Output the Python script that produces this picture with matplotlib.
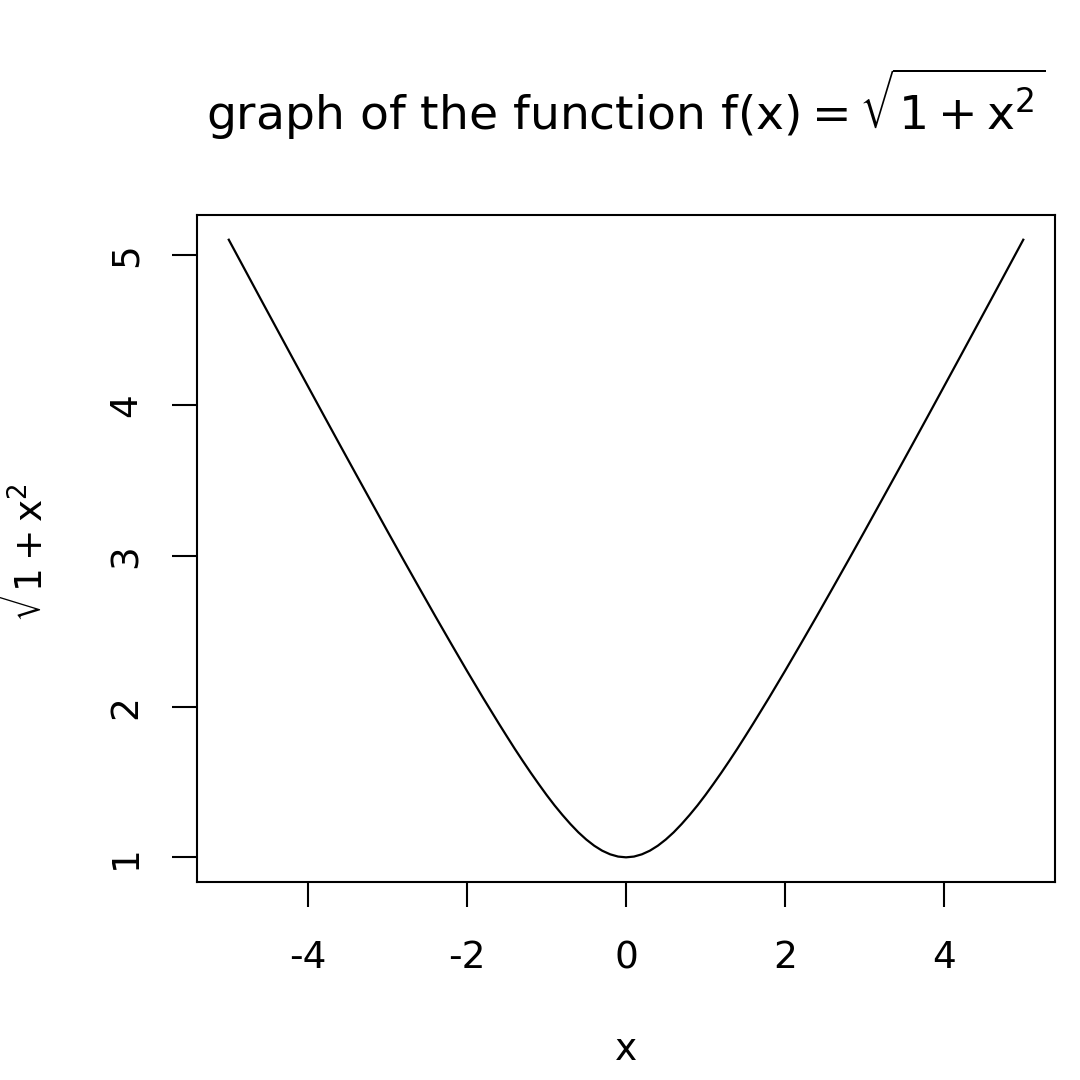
import matplotlib
matplotlib.use("Agg")
import matplotlib.pyplot as plt

plt.rcParams['font.family'] = ['DejaVu Sans']
plt.rcParams['mathtext.fontset'] = 'dejavusans'

# values
x = [-5.0, -4.8, -4.6, -4.4, -4.2, -4.0, -3.8, -3.6, -3.4, -3.2, -3.0,
     -2.8, -2.6, -2.4, -2.2, -2.0, -1.8, -1.6, -1.5, -1.4, -1.3, -1.2, -1.1, -1.0,
     -0.9, -0.8, -0.7, -0.6, -0.5, -0.4, -0.3, -0.2, -0.1, 0.0,
     0.1, 0.2, 0.3, 0.4, 0.5, 0.6, 0.7, 0.8, 0.9, 1.0,
     1.1, 1.2, 1.3, 1.4, 1.5, 1.6, 1.8, 2.0, 2.2, 2.4, 2.6, 2.8, 3.0,
     3.2, 3.4, 3.6, 3.8, 4.0, 4.2, 4.4, 4.6, 4.8, 5.0]
y = [5.099, 4.903, 4.707, 4.512, 4.317, 4.123, 3.929, 3.736, 3.544, 3.353, 3.162,
     2.973, 2.786, 2.600, 2.417, 2.236, 2.059, 1.887, 1.803, 1.720, 1.640, 1.562, 1.487, 1.414,
     1.345, 1.281, 1.221, 1.166, 1.118, 1.077, 1.044, 1.020, 1.005, 1.000,
     1.005, 1.020, 1.044, 1.077, 1.118, 1.166, 1.221, 1.281, 1.345, 1.414,
     1.487, 1.562, 1.640, 1.720, 1.803, 1.887, 2.059, 2.236, 2.417, 2.600, 2.786, 2.973, 3.162,
     3.353, 3.544, 3.736, 3.929, 4.123, 4.317, 4.512, 4.707, 4.903, 5.099]
xticks = [-4, -2, 0, 2, 4]
yticks = [1, 2, 3, 4, 5]

fig = plt.figure(figsize=(10.8, 10.8), dpi=100)
ax = fig.add_axes([0.1824, 0.1833, 0.7945, 0.6176])

ax.plot(x, y, color='black', lw=1.6)
ax.set_xlim(-5.4, 5.4)
ax.set_ylim(0.836, 5.263)

ax.set_xticks(xticks)
ax.set_yticks(yticks)
ax.set_xticklabels([str(t) for t in xticks])
ax.set_yticklabels([str(t) for t in yticks], rotation=90, va='center')
ax.tick_params(axis='both', direction='out', length=18, width=1.5, labelsize=27)
ax.tick_params(axis='x', pad=24)
ax.tick_params(axis='y', pad=20)
for s in ax.spines.values():
    s.set_linewidth(1.5)

ax.set_xlabel('x', fontsize=27, va='center')
ax.xaxis.set_label_coords(0.5, -0.252)
ax.set_ylabel(r'$\sqrt{1+\mathrm{x}^2}$', fontsize=27, va='center')
ax.yaxis.set_label_coords(-0.2, 0.5)

fig.text(0.5796, 0.88,
         r'graph of the function $\mathrm{f}\left(\mathrm{x}\right)=\sqrt{1+\mathrm{x}^2}$',
         fontsize=34, ha='center', va='baseline')

fig.savefig('out.png', dpi=100)
